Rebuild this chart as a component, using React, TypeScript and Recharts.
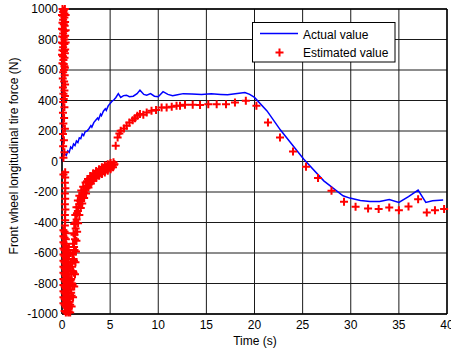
import React from 'react';
import {
  ComposedChart,
  Line,
  Scatter,
  XAxis,
  YAxis,
  CartesianGrid,
  ReferenceLine,
} from 'recharts';

// tick labels
const timeTicks = [0, 5, 10, 15, 20, 25, 30, 35, 40];
const forceTicks = [-1000, -800, -600, -400, -200, 0, 200, 400, 600, 800, 1000];

// Actual value (blue line), [time s, force N]
const actualValue: [number, number][] = [
  [0, 0], [0.03, 595], [0.06, 15], [0.15, 35], [0.3, 50], [0.45, 40], [0.6, 70], [0.75, 60],
  [0.9, 95], [1.05, 85], [1.2, 115], [1.35, 105], [1.5, 135], [1.65, 125], [1.8, 155], [1.95, 150],
  [2.1, 180], [2.25, 170], [2.4, 195], [2.6, 200], [2.8, 215], [3.0, 235], [3.1, 225], [3.3, 255],
  [3.5, 270], [3.7, 285], [3.8, 275], [4.0, 310], [4.1, 300], [4.3, 330], [4.5, 345], [4.6, 335],
  [4.8, 365], [5.0, 380], [5.2, 395], [5.4, 405], [5.6, 420], [5.85, 445], [6.1, 420], [6.4, 432],
  [6.7, 435], [7.0, 425], [7.4, 428], [7.8, 445], [8.1, 468], [8.5, 440], [8.8, 435], [9.2, 445],
  [9.6, 428], [10.0, 425], [10.5, 458], [11.0, 440], [11.5, 432], [12.0, 438], [12.6, 445],
  [13.5, 442], [14.5, 440], [15.5, 445], [16.5, 440], [17.2, 437], [18.0, 445], [19.0, 452],
  [19.5, 440], [20.0, 420], [21.3, 332], [22.7, 206], [25.1, 16], [27.2, -127], [29.2, -225],
  [29.9, -240], [31.0, -255], [32.0, -262], [33.0, -262], [34.0, -250], [35.0, -268], [36.0, -230],
  [37.0, -188], [37.8, -268], [38.5, -258], [39.6, -252],
];

// Estimated value, burst right at start (t < 1 s)
const estimatedBurst: [number, number][] = [
  // upper block
  [0.05, 1000], [0.18, 990], [0.3, 1000], [0.1, 955], [0.25, 945], [0.05, 910], [0.18, 900],
  [0.32, 915], [0.1, 865], [0.26, 855], [0.04, 820], [0.18, 815], [0.32, 825], [0.1, 775],
  [0.25, 770], [0.05, 730], [0.2, 725], [0.33, 735], [0.1, 690], [0.26, 680], [0.05, 645],
  [0.18, 640], [0.3, 615], [0.12, 980], [0.25, 970], [0.12, 930], [0.28, 890], [0.12, 840],
  [0.25, 800], [0.12, 750], [0.3, 710], [0.15, 665], [0.25, 625], [0.38, 960], [0.38, 860],
  [0.38, 780], [0.0, 960], [0.0, 870], [0.0, 780], [0.0, 700],
  [0.12, 585], [0.28, 565], [0.08, 545], [0.22, 525], [0.32, 505], [0.1, 485], [0.25, 465],
  [0.15, 445], [0.3, 430], [0.2, 600], [0.18, 410],
  [0.12, 390], [0.25, 355], [0.1, 320], [0.22, 285], [0.14, 250], [0.3, 215], [0.1, 180],
  [0.2, 140], [0.12, 100], [0.25, 60], [0.15, 25],
  // lower column
  [0.15, -85], [0.33, -70], [0.33, -105], [0.3, -140], [0.35, -175], [0.3, -210], [0.33, -245],
  [0.3, -280], [0.35, -315], [0.3, -350], [0.33, -385], [0.3, -420],
  [0.15, -450], [0.15, -490], [0.15, -530], [0.15, -570], [0.15, -610], [0.15, -650], [0.15, -690],
  [0.15, -730], [0.15, -770], [0.15, -810], [0.15, -850], [0.15, -890], [0.15, -930],
  [0.27, -460], [0.27, -500], [0.27, -540], [0.27, -580], [0.27, -620], [0.27, -660], [0.27, -700],
  [0.27, -740], [0.27, -780], [0.27, -820], [0.27, -860], [0.27, -900], [0.27, -940], [0.27, -980],
  [0.4, -470], [0.4, -510], [0.4, -550], [0.4, -590], [0.4, -630], [0.4, -670], [0.4, -710],
  [0.4, -750], [0.4, -790], [0.4, -830], [0.4, -870], [0.4, -910], [0.4, -950], [0.4, -990],
  [0.55, -580], [0.55, -620], [0.55, -660], [0.55, -700], [0.55, -740], [0.55, -780], [0.55, -820],
  [0.55, -860], [0.55, -900], [0.55, -940], [0.55, -980],
  [0.7, -560], [0.7, -600], [0.7, -640], [0.7, -680], [0.7, -720], [0.7, -760], [0.7, -800],
  [0.7, -840], [0.7, -880], [0.7, -920], [0.7, -960], [0.65, -990],
  [0.9, -600], [0.9, -660], [0.9, -720], [0.9, -780],
];

// Estimated value, recovery band (0.5 s .. 5.5 s)
const estimatedRecovery: [number, number][] = [
  // inner edge
  [0.55, -960], [0.7, -900], [0.85, -840], [0.95, -770], [1.05, -690], [1.1, -610], [1.15, -540],
  [1.2, -470], [1.27, -410], [1.38, -350], [1.5, -300], [1.65, -255], [1.8, -225], [2.0, -190],
  [2.2, -165], [2.45, -138], [2.7, -115], [2.95, -95], [3.25, -77], [3.55, -62], [3.85, -50],
  [4.15, -38], [4.45, -27], [4.75, -18], [5.05, -10], [5.35, -5],
  // middle
  [0.7, -985], [0.85, -940], [1.0, -880], [1.1, -810], [1.2, -730], [1.25, -650], [1.3, -580],
  [1.35, -510], [1.42, -440], [1.52, -380], [1.65, -325], [1.8, -280], [1.95, -250], [2.15, -215],
  [2.35, -185], [2.6, -160], [2.85, -135], [3.1, -115], [3.4, -97], [3.7, -82], [4.0, -70],
  [4.3, -58], [4.6, -45], [4.9, -35], [5.2, -25], [5.45, -18],
  // outer edge
  [0.85, -990], [1.0, -950], [1.15, -890], [1.27, -820], [1.35, -740], [1.4, -660], [1.45, -590],
  [1.5, -520], [1.57, -460], [1.67, -405], [1.8, -350], [1.95, -305], [2.1, -275], [2.3, -240],
  [2.5, -210], [2.75, -170], [3.0, -145], [3.25, -125], [3.55, -108], [3.85, -93], [4.15, -82],
  [4.45, -72], [4.75, -60], [5.05, -50], [5.3, -38],
  // in between
  [1.25, -560], [1.3, -480], [1.4, -400], [1.55, -340], [1.7, -300], [1.9, -260], [2.05, -235],
  [1.2, -640], [1.15, -720], [1.05, -800], [0.95, -860], [0.8, -920],
  [2.3, -205], [2.55, -175], [2.8, -150], [3.05, -128], [3.35, -110], [3.6, -92], [3.9, -78],
  [4.2, -64], [4.5, -52], [4.8, -40], [5.1, -30], [5.4, -22],
  [2.6, -130], [2.95, -110], [3.3, -88], [3.65, -70], [4.0, -55], [4.35, -42], [4.65, -32],
  [4.95, -22],
];

// Estimated value, rest of the run
const estimatedSteady: [number, number][] = [
  [5.58, 103], [5.78, 157], [5.96, 184], [6.1, 201], [6.44, 216], [6.72, 234], [7.0, 256],
  [7.34, 271], [7.58, 284], [7.83, 300], [8.1, 311], [8.45, 306], [8.8, 321], [9.3, 332],
  [9.77, 337], [10.35, 354], [10.87, 354], [11.4, 359], [11.9, 365], [12.26, 365], [12.78, 372],
  [13.58, 372], [14.34, 370], [15.2, 376], [16.07, 376], [17.04, 376], [17.97, 387], [19.1, 398],
  [20.2, 365], [21.4, 256], [22.65, 157], [24.0, 66], [25.35, -35], [26.6, -109], [28.0, -192],
  [29.3, -264], [30.5, -297], [31.8, -308], [32.9, -312], [34.0, -301], [35.0, -319],
  [36.0, -295], [37.0, -247], [37.9, -334], [38.75, -319], [39.7, -312],
];

const toRows = (pts: [number, number][]) => pts.map(([t, v]) => ({ t, v }));

const PlusMark = (props: any) => {
  const { cx, cy } = props;
  if (cx == null || cy == null) return null;
  const r = 4;
  return (
    <path
      d={`M${cx - r},${cy}H${cx + r}M${cx},${cy - r}V${cy + r}`}
      stroke="#ff0000"
      strokeWidth={2}
      fill="none"
    />
  );
};

const App: React.FC = () => {
  const lineData = toRows(actualValue);
  const markerData = toRows([...estimatedBurst, ...estimatedRecovery, ...estimatedSteady]);
  const font = "'Liberation Sans', Arial, sans-serif";

  return (
    <div
      style={{
        position: 'absolute',
        left: 0,
        top: 0,
        width: 451,
        height: 350,
        background: '#fff',
        fontFamily: font,
        overflow: 'hidden',
      }}
    >
      <ComposedChart width={451} height={350} margin={{ top: 9, right: 4, bottom: 0, left: 0 }}>
        <CartesianGrid stroke="#1a1a1a" strokeWidth={1} />
        <XAxis
          type="number"
          dataKey="t"
          domain={[0, 40]}
          ticks={timeTicks}
          interval={0}
          height={36}
          tickLine={false}
          tickSize={3}
          tickMargin={3}
          axisLine={{ stroke: '#000', strokeWidth: 1.4 }}
          tick={{ fontSize: 12, fill: '#000' }}
        />
        <YAxis
          type="number"
          dataKey="v"
          domain={[-1000, 1000]}
          ticks={forceTicks}
          interval={0}
          width={62}
          tickLine={false}
          tickSize={2}
          tickMargin={2}
          axisLine={{ stroke: '#000', strokeWidth: 1.4 }}
          tick={{ fontSize: 12, fill: '#000' }}
        />
        <ReferenceLine y={1000} stroke="#000" strokeWidth={1.4} />
        <ReferenceLine x={40} stroke="#000" strokeWidth={1.4} />
        <Line
          data={lineData}
          dataKey="v"
          type="linear"
          stroke="#0000ff"
          strokeWidth={1.5}
          dot={false}
          isAnimationActive={false}
        />
        <Scatter
          data={markerData}
          dataKey="v"
          shape={<PlusMark />}
          isAnimationActive={false}
        />
      </ComposedChart>

      {/* axis titles */}
      <svg
        width={451}
        height={350}
        style={{ position: 'absolute', left: 0, top: 0, pointerEvents: 'none' }}
      >
        <text x={255} y={345} fontSize={12} textAnchor="middle" fill="#000">
          Time (s)
        </text>
        <text
          x={0}
          y={0}
          fontSize={12}
          textAnchor="middle"
          fill="#000"
          transform="translate(18,156) rotate(-90)"
        >
          Front wheel longitudinal tire force (N)
        </text>
      </svg>

      {/* legend */}
      <svg
        width={144}
        height={41}
        style={{ position: 'absolute', left: 252, top: 22 }}
      >
        <rect x={0.5} y={0.5} width={142.5} height={39.5} fill="#fff" stroke="#000" strokeWidth={1} />
        <line x1={8} x2={46} y1={11.5} y2={11.5} stroke="#0000ff" strokeWidth={1.5} />
        <text x={51} y={17} fontSize={12} fill="#000">
          Actual value
        </text>
        <PlusMark cx={27.5} cy={30.5} />
        <text x={51} y={35} fontSize={12} fill="#000">
          Estimated value
        </text>
      </svg>
    </div>
  );
};

export default App;
